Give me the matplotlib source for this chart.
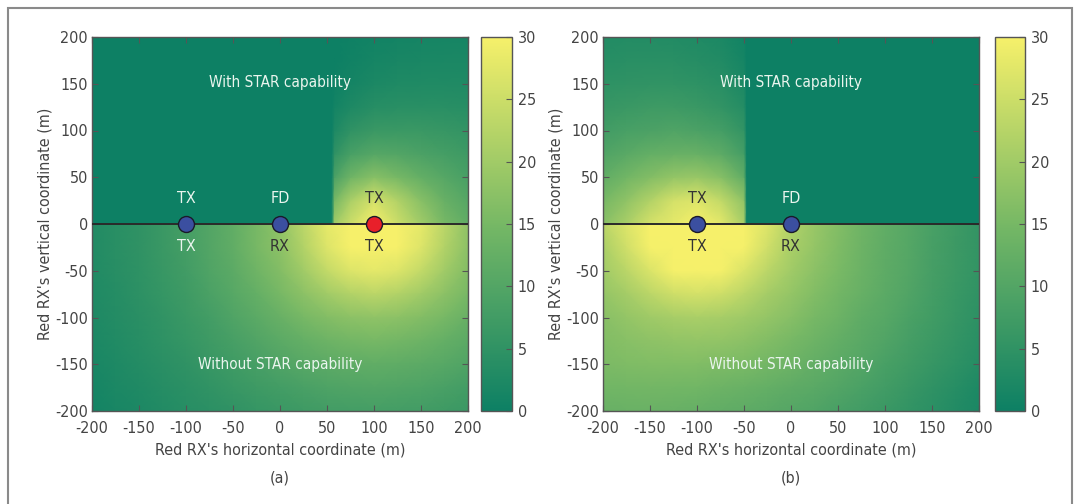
import numpy as np
import matplotlib.pyplot as plt
from matplotlib.patches import Rectangle
from matplotlib.colors import LinearSegmentedColormap

plt.rcParams['font.family'] = ['DejaVu Sans']
plt.rcParams['font.stretch'] = 'condensed'
plt.rcParams['axes.unicode_minus'] = False

# sample grid the maps were read on (m)
x_grid = [-200, -175, -150, -125, -100, -75, -50, -25, 0, 25, 50, 75, 100, 125, 150, 175, 200]
y_up = [0, 25, 50, 75, 100, 125, 150, 175, 200]
y_down = [0, -25, -50, -75, -100, -125, -150, -175, -200]

# (a) with STAR: only right of x~56 is lit
xa_up = [-200, 55, 58, 75, 100, 125, 150, 175, 200]
za_up = [
    [0, 0, 20, 25, 30, 25, 20, 15, 12],
    [0, 0, 15, 21, 26, 22, 17, 13, 10.5],
    [0, 0, 9, 14, 17, 15, 12.5, 10.5, 8.5],
    [0, 0, 5, 8.5, 10.5, 10, 9, 8, 7],
    [0, 0, 2.5, 5, 6.5, 6.5, 6.5, 6, 5.5],
    [0, 0, 1, 2.5, 3.8, 4, 4, 4, 3.8],
    [0, 0, 0.3, 1.2, 2.2, 2.6, 2.8, 2.8, 2.7],
    [0, 0, 0, 0.6, 1.3, 1.7, 1.9, 2, 2],
    [0, 0, 0, 0.3, 0.8, 1.1, 1.3, 1.4, 1.4],
]
# (a) without STAR
za_down = [
    [3, 4, 5, 6.5, 8, 10, 12, 15, 18, 23, 28, 30, 30, 30, 28, 23, 18],
    [3, 4, 5, 6.5, 8, 10, 12, 15, 17.5, 22, 27, 30, 30, 30, 27, 22, 17.5],
    [2.9, 3.9, 4.8, 6.2, 7.6, 9.5, 11.3, 14, 16.5, 20, 24, 27, 28, 27, 24, 20, 16.5],
    [2.7, 3.5, 4.6, 5.8, 7, 8.8, 10.6, 12.5, 15, 17.5, 20, 22, 23, 22, 20, 17.5, 15],
    [2.5, 3.3, 4.2, 5.2, 6.5, 7.8, 9.6, 11.2, 13, 15, 16.5, 17.5, 18, 17.5, 16.5, 15, 13],
    [2.2, 2.9, 3.8, 4.7, 5.8, 7, 8.4, 9.8, 11.2, 12.5, 13.8, 14.6, 15, 14.6, 13.8, 12.5, 11.2],
    [1.8, 2.5, 3.3, 4.2, 5, 6.2, 7.2, 8.4, 9.6, 10.6, 11.3, 11.8, 12, 11.8, 11.3, 10.6, 9.6],
    [1.4, 2.2, 2.8, 3.6, 4.4, 5.2, 6.2, 7, 7.8, 8.6, 9.3, 9.8, 10, 9.8, 9.3, 8.6, 7.8],
    [1, 1.7, 2.3, 3, 3.7, 4.4, 5, 5.8, 6.5, 7, 7.6, 7.8, 8, 7.8, 7.6, 7, 6.5],
]

# (b) with STAR: only left of x~-48 is lit
xb_up = [-200, -175, -150, -125, -100, -75, -50, -47, 200]
zb_up = [
    [17, 21, 26, 28, 30, 28, 21, 0, 0],
    [15, 18, 22, 26, 27, 24, 18, 0, 0],
    [12, 14.5, 16.5, 18.5, 19, 17, 12, 0, 0],
    [9.5, 11, 12.5, 13, 13, 11.5, 8, 0, 0],
    [7.5, 8.5, 9, 9.5, 9, 8, 5.5, 0, 0],
    [6, 6.5, 7, 7, 6.5, 5.5, 3.5, 0, 0],
    [4.8, 5, 5.2, 5.2, 4.8, 4, 2.2, 0, 0],
    [3.8, 4, 4, 4, 3.6, 3, 1.3, 0, 0],
    [3, 3.2, 3.2, 3.1, 2.8, 2.2, 0.8, 0, 0],
]
# (b) without STAR
zb_down = [
    [23, 27, 30, 30, 30, 30, 30, 27, 22, 19, 16.5, 14, 12, 10.5, 8.5, 7, 5.5],
    [21, 25.5, 29.8, 30, 30, 30, 29.8, 25.5, 21, 18.5, 16, 13.8, 11.8, 10.4, 8.4, 6.9, 5.4],
    [20, 23, 26.7, 29.8, 30, 29.8, 26.7, 23, 20, 17.5, 15.4, 13.4, 11.6, 10.1, 8.2, 6.7, 5.3],
    [18.5, 20.4, 23, 25.3, 26, 25.3, 23, 20.4, 18.5, 16.4, 14.6, 12.8, 11.2, 9.8, 7.9, 6.4, 5],
    [17.2, 18.5, 19.8, 20.7, 21, 20.7, 19.8, 18.5, 16.9, 15, 13.6, 11.8, 10.6, 8.8, 7.4, 6, 4.6],
    [16.4, 17, 17.7, 18.2, 18.5, 18.2, 17.5, 16.4, 15, 13.8, 12.4, 11, 9.8, 8.1, 6.7, 5.4, 4],
    [15.6, 16, 16.2, 16.2, 16.2, 15.9, 15.4, 14.6, 13.6, 12.4, 11.2, 10.1, 8.5, 7.3, 6, 4.8, 3.4],
    [14.3, 14.5, 14.6, 14.5, 14.3, 13.8, 13.2, 12.5, 11.7, 11, 10, 8.7, 7.5, 6.3, 5, 3.7, 2.4],
    [13, 13.2, 13.2, 13, 12.6, 12, 11.5, 11, 10.3, 9.5, 8.5, 7.5, 6.5, 5.3, 4.3, 3.1, 2],
]

# nodes: x position, marker colour, label above, label below, label colours
nodes_a = [(-100, '#3b4fa0', 'TX', 'TX', 'light', 'light'),
           (0, '#3b4fa0', 'FD', 'RX', 'light', 'dark'),
           (100, '#e8202a', 'TX', 'TX', 'dark', 'dark')]
nodes_b = [(-100, '#3b4fa0', 'TX', 'TX', 'dark', 'dark'),
           (0, '#3b4fa0', 'FD', 'RX', 'light', 'dark')]

cbar_ticks = [0, 5, 10, 15, 20, 25, 30]
axis_ticks = [-200, -150, -100, -50, 0, 50, 100, 150, 200]
tcol = {'light': '#eaf5ee', 'dark': '#333333'}
gray = '#555555'
txt = '#444444'

cmap = LinearSegmentedColormap.from_list(
    'star', [(0, '#0d8064'), (0.5, '#76b865'), (1, '#f6f06a')])

fig = plt.figure(figsize=(10.8, 5.04), dpi=100)
fig.patches.append(Rectangle((8 / 1080, -0.1), 1064 / 1080, 1.1 - 8 / 504,
                             transform=fig.transFigure, fill=False,
                             ec='#8a8a8a', lw=1.5))


def panel(left, cleft, cwidth, x_up, z_up, z_down, nodes, tag):
    ax = fig.add_axes([left / 1080, 93 / 504, 376 / 1080, 374 / 504])
    cax = fig.add_axes([cleft / 1080, 93 / 504, cwidth / 1080, 374 / 504])
    X, Y = np.meshgrid(x_up, y_up)
    m = ax.pcolormesh(X, Y, np.array(z_up), shading='gouraud', cmap=cmap, vmin=0, vmax=30)
    X, Y = np.meshgrid(x_grid, y_down)
    ax.pcolormesh(X, Y, np.array(z_down), shading='gouraud', cmap=cmap, vmin=0, vmax=30)
    ax.axhline(0, color='#2a2a2a', lw=1.4, zorder=3)
    for x, c, top, bot, ct, cb in nodes:
        ax.plot(x, 0, 'o', ms=11.5, mfc=c, mec='#1a1a2a', mew=1, zorder=4)
        ax.text(x, 27, top, ha='center', va='center', fontsize=11.5, color=tcol[ct])
        ax.text(x, -24, bot, ha='center', va='center', fontsize=11.5, color=tcol[cb])
    ax.text(0, 151, 'With STAR capability', ha='center', va='center', fontsize=11, color=tcol['light'])
    ax.text(0, -150, 'Without STAR capability', ha='center', va='center', fontsize=11, color=tcol['light'])
    ax.set_xlim(-200, 200)
    ax.set_ylim(-200, 200)
    ax.set_xticks(axis_ticks)
    ax.set_yticks(axis_ticks)
    ax.tick_params(direction='in', top=True, right=True, length=4, color=gray,
                   labelsize=11.5, labelcolor=txt)
    ax.tick_params(axis='x', pad=7)
    ax.tick_params(axis='y', pad=3)
    for s in ax.spines.values():
        s.set_color(gray)
        s.set_linewidth(1)
    ax.set_xlabel("Red RX's horizontal coordinate (m)", fontsize=11.5, color=txt, va='center')
    ax.set_ylabel("Red RX's vertical coordinate (m)", fontsize=11.5, color=txt, va='center')
    ax.xaxis.set_label_coords(0.5, -0.104)
    ax.yaxis.set_label_coords(-0.125, 0.5)
    ax.text(0.5, -0.179, tag, transform=ax.transAxes, ha='center', va='center',
            fontsize=11.5, color=txt)
    cb = fig.colorbar(m, cax=cax, ticks=cbar_ticks)
    cb.outline.set_edgecolor(gray)
    cb.outline.set_linewidth(1)
    cax.tick_params(direction='in', length=4, color=gray, labelsize=11.5,
                    labelcolor=txt, pad=4)


panel(92, 481, 31, xa_up, za_up, za_down, nodes_a, '(a)')
panel(603, 995, 30, xb_up, zb_up, zb_down, nodes_b, '(b)')

fig.savefig('out.png', dpi=100)
